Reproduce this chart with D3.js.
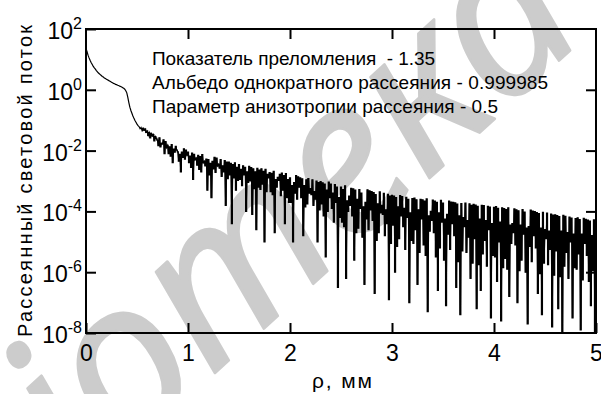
<!DOCTYPE html>
<html><head><meta charset="utf-8">
<script src="https://cdn.jsdelivr.net/npm/d3@7/dist/d3.min.js"></script>
<style>body{margin:0;background:#fff}svg{display:block}</style>
</head><body>
<svg id="chart" width="601" height="394"></svg>
<script>
// ---- data ----
const xTicks = [0, 1, 2, 3, 4, 5];
const yTickExps = [2, 0, -2, -4, -6, -8];
const rhoStep = 0.01; // mm between samples
// log10 of scattered flux, sampled every 0.01 mm from 0 to 5 mm
const logFlux = [
 1.38, 1.25, 1.14, 1.05, 0.97, 0.90, 0.84, 0.78, 0.73, 0.69,
 0.64, 0.60, 0.56, 0.53, 0.50, 0.47, 0.44, 0.42, 0.39, 0.37,
 0.35, 0.33, 0.31, 0.29, 0.27, 0.25, 0.23, 0.21, 0.20, 0.18,
 0.17, 0.15, 0.14, 0.12, 0.11, 0.09, 0.07, 0.05, 0.02, -0.03,
 -0.10, -0.25, -0.42, -0.57, -0.68, -0.77, -0.86, -0.94, -1.01, -1.07,
 -1.13, -1.18,
 -1.21, -1.28, -1.24, -1.34, -1.27, -1.33, -1.29, -1.40,
 -1.36, -1.50, -1.41, -1.58, -1.44, -1.52, -1.47, -1.68, -1.54, -1.60,
 -1.66, -1.84, -1.58, -1.88, -1.76, -1.78, -1.65, -2.10, -1.70, -1.90,
 -1.83, -2.10, -1.88, -2.18, -1.80, -2.40, -1.95, -2.05, -1.86, -1.98,
 -2.04, -2.35, -2.12, -2.70, -2.05, -2.22, -1.94, -2.28, -1.98, -2.15,
 -2.05, -2.40, -2.18, -2.55, -2.08, -2.95, -2.12, -2.30, -2.25, -2.48,
 -2.16, -2.62, -2.20, -2.70, -2.13, -2.40, -2.35, -2.50, -2.28, -3.30,
 -2.30, -2.80, -2.42, -3.55, -2.35, -2.60, -2.22, -2.72, -2.25, -2.50,
 -2.45, -2.58, -2.30, -2.85, -2.50, -2.70, -2.33, -3.80, -2.38, -2.92,
 -2.38, -2.80, -2.42, -4.40, -2.46, -2.90, -2.40, -3.30, -2.55, -2.98,
 -2.46, -2.95, -2.62, -3.15, -2.50, -2.80, -2.55, -4.00, -2.70, -3.05,
 -2.52, -3.00, -2.56, -4.10, -2.60, -3.25, -2.70, -4.60, -2.58, -3.20,
 -2.64, -3.28, -2.60, -3.10, -2.68, -5.00, -2.62, -3.35, -2.78, -2.90,
 -2.72, -3.35, -2.75, -3.45, -2.68, -4.70, -2.95, -3.20, -2.88, -2.98,
 -2.78, -3.48, -2.74, -3.30, -2.82, -4.40, -2.76, -3.55, -2.95, -3.70,
 -2.90, -3.70, -3.15, -5.00, -3.05, -3.40, -2.82, -3.60, -2.86, -3.20,
 -2.90, -3.55, -2.93, -4.80, -3.15, -3.85, -2.96, -3.75, -2.92, -3.40,
 -3.25, -3.45, -2.96, -3.80, -3.35, -3.60, -3.00, -5.00, -3.05, -3.95,
 -3.02, -3.75, -3.06, -4.15, -3.10, -5.50, -3.30, -4.00, -3.04, -3.55,
 -3.10, -3.90, -3.40, -4.35, -3.12, -3.70, -3.20, -6.50, -3.55, -4.20,
 -3.20, -4.35, -3.28, -4.50, -3.16, -6.20, -3.65, -4.00, -3.50, -3.80,
 -3.24, -4.15, -3.26, -5.60, -3.30, -4.70, -3.60, -4.55, -3.28, -3.90,
 -3.40, -4.85, -3.85, -6.40, -3.70, -4.25, -3.29, -4.60, -3.32, -3.95,
 -3.35, -4.30, -3.38, -6.70, -3.45, -4.95, -3.75, -4.70, -3.36, -4.05,
 -3.80, -4.10, -3.41, -4.80, -3.95, -4.40, -3.44, -6.90, -3.50, -5.05,
 -3.47, -4.45, -3.50, -6.00, -3.55, -5.15, -3.85, -4.90, -3.48, -4.15,
 -3.51, -4.50, -3.90, -5.25, -3.54, -4.20, -3.60, -7.00, -4.05, -4.95,
 -3.58, -5.05, -3.56, -4.60, -3.62, -6.40, -3.95, -5.35, -3.60, -4.25,
 -3.62, -5.10, -3.66, -5.45, -3.59, -7.30, -4.15, -4.65, -4.00, -4.30,
 -3.63, -4.70, -3.66, -5.50, -3.70, -6.60, -4.05, -5.20, -3.64, -4.35,
 -3.73, -5.60, -4.25, -7.10, -4.10, -4.75, -3.66, -5.25, -3.69, -4.40,
 -3.70, -4.80, -3.72, -6.50, -3.76, -5.65, -4.15, -7.40, -3.74, -5.30,
 -4.20, -4.50, -3.73, -5.35, -4.30, -4.85, -3.75, -6.20, -3.80, -5.70,
 -3.77, -4.90, -3.79, -7.20, -3.83, -5.75, -4.25, -6.60, -3.80, -5.40,
 -3.81, -4.95, -4.30, -5.80, -3.83, -4.60, -3.86, -7.50, -4.40, -5.45,
 -3.87, -5.50, -3.84, -6.30, -3.90, -5.00, -4.35, -7.60, -3.88, -5.85,
 -3.91, -5.55, -3.94, -5.90, -3.88, -6.80, -4.45, -5.05, -4.40, -4.70,
 -3.92, -5.10, -3.95, -7.00, -3.98, -5.95, -4.45, -5.60, -3.94, -4.75,
 -4.02, -6.00, -4.55, -7.70, -4.50, -5.15, -3.96, -5.65, -3.99, -4.80,
 -4.01, -5.20, -4.04, -6.70, -4.07, -6.05, -4.55, -7.40, -4.03, -5.70,
 -4.60, -4.90, -4.06, -5.75, -4.65, -5.25, -4.09, -7.80, -4.12, -6.10,
 -4.11, -5.30, -4.14, -7.20, -4.17, -6.15, -4.65, -8.00, -4.13, -5.80,
 -4.16, -5.35, -4.70, -6.20, -4.19, -5.00, -4.22, -7.50, -4.75, -5.85,
 -4.24, -5.90, -4.21, -5.40, -4.27, -7.90, -4.75, -6.25, -4.23, -5.05,
 -4.26, -5.45, -4.29, -6.30, -4.32, -7.10, -4.80, -5.95, -4.28, -8.00, -4.85
];
const legendLines = [
  "Показатель преломления  - 1.35",
  "Альбедо однократного рассеяния - 0.999985",
  "Параметр анизотропии рассеяния - 0.5"
];
const xTitle = "ρ, мм";
const yTitle = "Рассеянный световой поток";
const watermark = "Бібліотека";

// ---- layout (positions / sizes) ----
const L = 86, R = 596, T = 29, B = 333;
const legendWidths = [283, 396, 346];
const font = "'Liberation Sans', Arial, sans-serif";
const wmFrom = [135, 381], wmTo = [515, 36]; // anchor points for "о" and "а" of the watermark

const svg = d3.select("#chart");
const x = d3.scaleLinear().domain([0, 5]).range([L, R]);
const y = d3.scaleLog().domain([1e-8, 1e2]).range([B, T]);

// watermark (behind everything)
const wm = svg.append("text")
  .attr("x", 0).attr("y", 0)
  .style("font-family", "'Noto Sans', 'Open Sans', sans-serif")
  .style("font-style", "italic")
  .style("font-size", "200px")
  .attr("fill", "#cccccc")
  .attr("stroke", "#cccccc")
  .attr("stroke-width", 2.5)
  .attr("stroke-linejoin", "round")
  .text(watermark);
(function placeWatermark() {
  const n = wm.node();
  const iO = watermark.indexOf("о"), iA = watermark.lastIndexOf("а");
  const eo = n.getExtentOfChar(iO), ea = n.getExtentOfChar(iA);
  const co = [eo.x + eo.width / 2, eo.y + eo.height * 0.62];
  const ca = [ea.x + ea.width / 2, ea.y + ea.height * 0.62];
  const srcAng = Math.atan2(ca[1] - co[1], ca[0] - co[0]);
  const dstAng = Math.atan2(wmTo[1] - wmFrom[1], wmTo[0] - wmFrom[0]);
  const s = Math.hypot(wmTo[0] - wmFrom[0], wmTo[1] - wmFrom[1]) / Math.hypot(ca[0] - co[0], ca[1] - co[1]);
  const deg = (dstAng - srcAng) * 180 / Math.PI;
  wm.attr("transform",
    `translate(${wmFrom[0]},${wmFrom[1]}) rotate(${deg}) scale(${s}) translate(${-co[0]},${-co[1]})`);
})();

// clip
svg.append("clipPath").attr("id", "clip")
  .append("rect").attr("x", L).attr("y", T).attr("width", R - L).attr("height", B - T);

const pts = logFlux.map((v, i) => ({ rho: i * rhoStep, f: Math.pow(10, v) }));
const line = d3.line().x(d => x(d.rho)).y(d => y(d.f));
svg.append("path")
  .datum(pts)
  .attr("clip-path", "url(#clip)")
  .attr("fill", "none")
  .attr("stroke", "#000")
  .attr("stroke-width", 1.2)
  .attr("d", line);
// the noisy tail is also drawn as vertical strokes so it reads as a dense band
svg.append("path")
  .datum(pts.filter(d => d.rho >= 0.55))
  .attr("clip-path", "url(#clip)")
  .attr("fill", "none")
  .attr("stroke", "#000")
  .attr("stroke-width", 1.2)
  .attr("d", line.curve(d3.curveStep));

// axes (inward ticks)
const tickLen = 10;
const gB = svg.append("g").attr("transform", `translate(0,${B})`)
  .call(d3.axisBottom(x).tickValues(xTicks).tickSize(-tickLen).tickPadding(12).tickFormat(d3.format("d")));
const gT = svg.append("g").attr("transform", `translate(0,${T})`)
  .call(d3.axisTop(x).tickValues(xTicks.slice(1, -1)).tickSize(-tickLen).tickFormat(""));
const yTickVals = yTickExps.map(e => Math.pow(10, e));
const gL = svg.append("g").attr("transform", `translate(${L},0)`)
  .call(d3.axisLeft(y).tickValues(yTickVals).tickSize(-tickLen).tickFormat(""));
const gR = svg.append("g").attr("transform", `translate(${R},0)`)
  .call(d3.axisRight(y).tickValues(yTickVals.slice(1, -1)).tickSize(-tickLen).tickFormat(""));
[gB, gT, gL, gR].forEach(g => {
  g.select(".domain").remove();
  g.selectAll(".tick line").attr("stroke", "#000").attr("stroke-width", 2);
});
gB.selectAll(".tick text").style("font-family", font).style("font-size", "23px").attr("fill", "#000");

// frame
svg.append("rect").attr("x", L).attr("y", T).attr("width", R - L).attr("height", B - T)
  .attr("fill", "none").attr("stroke", "#000").attr("stroke-width", 2);

// y tick labels 10^n
yTickExps.forEach(e => {
  const t = svg.append("text")
    .attr("x", 82).attr("y", y(Math.pow(10, e)) + 10)
    .attr("text-anchor", "end")
    .style("font-family", font).style("font-size", "23px").attr("fill", "#000");
  t.append("tspan").text("10");
  t.append("tspan").attr("dy", -10).style("font-size", "16px").text(e < 0 ? "-" + Math.abs(e) : String(e));
});

// titles
svg.append("text")
  .attr("x", 312).attr("y", 388)
  .attr("textLength", 60).attr("lengthAdjust", "spacing")
  .style("font-family", font).style("font-size", "21px").attr("fill", "#000")
  .text(xTitle);
svg.append("text")
  .attr("transform", `translate(32,337) rotate(-90)`)
  .attr("textLength", 312).attr("lengthAdjust", "spacing")
  .style("font-family", font).style("font-size", "20px").attr("fill", "#000")
  .text(yTitle);

// legend text
legendLines.forEach((s, i) => {
  svg.append("text")
    .attr("x", 152).attr("y", 65 + i * 24)
    .attr("textLength", legendWidths[i]).attr("lengthAdjust", "spacing")
    .style("font-family", font).style("font-size", "19px").attr("fill", "#000")
    .style("white-space", "pre")
    .text(s);
});
</script>
</body></html>
